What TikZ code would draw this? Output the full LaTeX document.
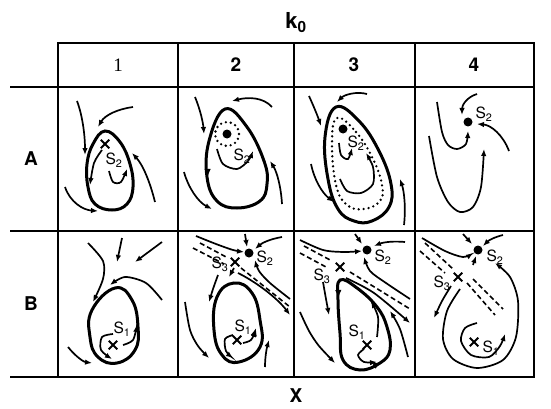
\documentclass[tikz,border=0pt]{standalone}
\usepackage{fontspec}
\setmainfont{TeX Gyre Heros}
\newfontfamily\oldone{Liberation Serif}
\usetikzlibrary{arrows.meta,shapes.misc}

\begin{document}
\begin{tikzpicture}[x=1pt, y=-1pt,
    grid/.style={line width=1.5pt},
    flow/.style={line width=1.7pt, -{Latex[length=7pt,width=5.5pt]}},
    tip/.style={line width=1.7pt, -{Latex[length=8pt,width=6.5pt]}},
    orbit/.style={line width=3pt},
    orbitdots/.style={line width=2.6pt, line cap=round, dash pattern=on 0pt off 5pt},
    sep/.style={line width=1.6pt, dash pattern=on 5pt off 3pt},
    focus/.style={circle, fill, inner sep=0pt, minimum size=9pt},
    saddle/.style={draw, cross out, line width=2pt, inner sep=0pt, minimum size=6.5pt},
    lab/.style={font=\fontsize{15.5}{15.5}\selectfont, inner sep=0pt},
    head/.style={font=\bfseries\fontsize{19}{19}\selectfont}
]
\useasboundingbox (0,0) rectangle (551,409);

% table
\draw[grid] (58,43) rectangle (534,377);
\draw[grid] (10,87) -- (534,87);
\draw[grid] (10,231) -- (534,231);
\draw[grid] (10,377) -- (58,377);
\foreach \x in {178,294,415}
    \draw[grid] (\x,43) -- (\x,377);

\node[head, font=\bfseries\fontsize{22}{22}\selectfont] (k0) at (296,23) {k\textsubscript{0}};
\node[head] (col1) at (118,65) {\oldone\mdseries 1};
\node[head] (col2) at (236,65) {2};
\node[head] (col3) at (354,65) {3};
\node[head] (col4) at (474,65) {4};
\node[head] (rowA) at (31,159) {A};
\node[head] (rowB) at (31,304) {B};
\node[head] (xlab) at (296,396) {X};

% A1
\begin{scope}[shift={(58,87)}]
\draw[orbit] plot[smooth cycle, tension=0.7] coordinates
    {(47,44) (62,55) (72,77) (75,100) (69,117) (54,123) (37,117) (30,100) (29,77) (35,57)};
\node[saddle] (a1s2) at (47,57) {};
\node[lab] (a1l) at (56,73) {S\textsubscript{2}};
\draw[flow] plot[smooth] coordinates {(44,63) (36,76) (32,98)};
\draw[flow] plot[smooth] coordinates {(51,84) (55,95) (63,95) (69,82)};
\draw[flow] (19,14) .. controls (25,30) and (27,50) .. (27,68);
\draw[flow] (75,20) .. controls (60,22) and (47,28) .. (40,40);
\draw[flow] (97,115) .. controls (92,95) and (85,78) .. (74,66);
\draw[flow] (7,100) .. controls (12,115) and (25,123) .. (40,124);
\end{scope}

% A2
\begin{scope}[shift={(178,87)}]
\draw[orbit] plot[smooth cycle, tension=0.7] coordinates
    {(47,22) (69,40) (86,74) (89,97) (82,114) (59,121) (39,114) (29,90) (31,54)};
\draw[tip] (29.6,82) -- (29.8,90);
\node[focus] (a2s2) at (49,47) {};
\draw[orbitdots] (a2s2) circle (12);
\node[lab] (a2l) at (64,69) {S\textsubscript{2}};
\draw[flow] plot[smooth] coordinates {(39,62) (45,77) (59,82) (70,74) (75,64)};
\draw[flow] (17,10) .. controls (22,22) and (25,35) .. (26,47);
\draw[flow] (94,20) .. controls (85,10) and (70,10) .. (54,14);
\draw[flow] (104,117) .. controls (103,100) and (99,85) .. (92,74);
\draw[flow] (6,85) .. controls (10,100) and (20,115) .. (34,122);
\end{scope}

% A3
\begin{scope}[shift={(294,87)}]
\draw[orbit] plot[smooth cycle, tension=0.7] coordinates
    {(42,20) (65,34) (85,64) (97,97) (95,120) (78,134) (60,134) (44,122) (34,92) (31,50)};
\draw[orbitdots] plot[smooth cycle, tension=0.7] coordinates
    {(43,31) (62,45) (79,72) (88,98) (86,114) (70,122) (53,118) (42,98) (38,56)};
\node[focus] (a3s2) at (49,42) {};
\node[lab] (a3l) at (62,56) {S\textsubscript{2}};
\draw[flow] plot[smooth] coordinates {(45,56) (47,68) (54,72) (58,61)};
\draw[flow] plot[smooth] coordinates {(46,92) (53,104) (67,106) (79,97) (79,80) (72,66)};
\draw[flow] (15,9) .. controls (20,20) and (24,30) .. (27,39);
\draw[flow] (73,7) .. controls (62,4) and (50,8) .. (43,15);
\draw[flow] (17,77) .. controls (20,92) and (28,106) .. (40,115);
\draw[flow] (110,138) .. controls (112,120) and (110,104) .. (106,92);
\end{scope}

% A4
\begin{scope}[shift={(415,87)}]
\node[focus] (a4s2) at (53,35) {};
\node[lab] (a4l) at (69,27) {S\textsubscript{2}};
\draw[flow] (62,7) .. controls (52,10) and (47,18) .. (47,28);
\draw[flow] plot[smooth] coordinates {(22,15) (27,45) (33,58) (42,62) (51,57) (53,44)};
\draw[flow] (94,64) .. controls (88,48) and (76,38) .. (62,37);
\draw[flow] plot[smooth] coordinates {(14,49) (22,90) (33,115) (45,125) (58,120) (66,100) (69,62)};
\end{scope}

% B1
\begin{scope}[shift={(58,231)}]
\draw[orbit] plot[smooth cycle, tension=0.75] coordinates
    {(57,57) (74,69) (80,96) (77,119) (59,132) (40,126) (32,106) (34,79)};
\node[saddle] (b1s1) at (55,114) {};
\node[lab] (b1l) at (64,98) {S\textsubscript{1}};
\draw[flow] plot[smooth] coordinates {(55,103) (44,106) (43,119) (54,128)};
\draw[flow] plot[smooth] coordinates {(65,114) (75,109) (79,94)};
\draw[flow] plot[smooth] coordinates {(30,12) (45,30) (45,48) (35,71)};
\draw[flow] (64,7) -- (59,31);
\draw[flow] (104,11) -- (77,31);
\draw[flow] plot[smooth] coordinates {(104,69) (88,52) (67,46) (52,54)};
\draw[flow] (10,116) .. controls (18,126) and (26,131) .. (34,132);
\end{scope}

% B2
\begin{scope}[shift={(178,231)}]
\node[focus] (b2s2) at (71,22) {};
\node[lab] (b2l2) at (87,27) {S\textsubscript{2}};
\node[saddle] (b2s3) at (57,31) {};
\node[lab] (b2l3) at (42,33) {S\textsubscript{3}};
\draw[orbit] plot[smooth cycle, tension=0.75] coordinates
    {(56,52) (74,62) (82,89) (82,116) (61,131) (44,124) (36,99) (39,66)};
\draw[tip] (76,104) -- (78,97);
\node[saddle] (b2s1) at (59,109) {};
\node[lab] (b2l1) at (65,96) {S\textsubscript{1}};
\draw[flow] plot[smooth] coordinates {(55,104) (47,108) (48,120) (55,127)};
\draw[flow] plot[smooth] coordinates {(65,112) (73,109) (78,99)};
\draw[flow] plot[smooth] coordinates {(7,71) (12,99) (20,115) (31,127)};
\draw[flow] (87,136) .. controls (87,125) and (89,116) .. (91,109);
\draw[flow] plot[smooth] coordinates {(40,44) (35,58) (31,71)};
\draw[flow] (56,37) -- (51,46);
% separatrix band
\draw[flow] plot[smooth] coordinates {(18,5) (38,13) (55,19) (66,21)};
\draw[sep] (22,12) -- (50,27);
\draw[sep] (15,17) -- (46,33);
\draw[flow] (67,3) -- (69,16);
\draw[flow] (104,6) .. controls (92,8) and (84,12) .. (77,18);
\draw[flow] plot[smooth] coordinates {(112,68) (92,52) (81,40) (77,29)};
\draw[sep] (63,37) -- (112,76);
\draw[flow] (60,42) .. controls (80,52) and (100,68) .. (112,84);
\end{scope}

% B3
\begin{scope}[shift={(294,231)}]
\node[focus] (b3s2) at (73,19) {};
\node[lab] (b3l2) at (89,26) {S\textsubscript{2}};
\node[saddle] (b3s3) at (46,36) {};
\node[lab] (b3l3) at (28,45) {S\textsubscript{3}};
\draw[flow] (61,3) -- (68,13);
\draw[flow] (111,11) .. controls (100,10) and (90,11) .. (80,15);
\draw[flow] plot[smooth] coordinates {(6,9) (29,19) (50,21) (68,20)};
\draw[sep] (10,15) -- (38,30);
\draw[sep] (6,22) -- (32,36);
\draw[flow] plot[smooth] coordinates {(116,68) (92,52) (76,40) (70,26)};
\draw[sep] (56,41) -- (116,78);
\draw[flow] plot[smooth] coordinates {(52,47) (80,62) (116,92)};
\draw[orbit] plot[smooth cycle, tension=0.7] coordinates
    {(46,49) (63,57) (83,76) (93,96) (96,119) (86,132) (66,139) (49,129) (46,102) (44,69)};
\draw[tip] (44.3,60) -- (44.5,67);
\draw[tip] (80,135) -- (87,131);
\node[saddle] (b3s1) at (73,114) {};
\node[lab] (b3l1) at (63,101) {S\textsubscript{1}};
\draw[flow] plot[smooth] coordinates {(70,118) (64,124) (70,131) (83,131)};
\draw[flow] plot[smooth] coordinates {(83,106) (84,86) (77,70)};
\draw[flow] plot[smooth] coordinates {(29,51) (32,68) (35,84)};
\draw[flow] plot[smooth] coordinates {(6,81) (15,100) (25,115) (41,132)};
\draw[flow] plot[smooth] coordinates {(114,126) (106,98) (96,80)};
\end{scope}

% B4
\begin{scope}[shift={(415,231)}]
\node[focus] (b4s2) at (63,19) {};
\node[lab] (b4l2) at (80,26) {S\textsubscript{2}};
\node[saddle] (b4s3) at (43,46) {};
\node[lab] (b4l3) at (27,52) {S\textsubscript{3}};
\draw[flow] (48,3) -- (57,13);
\draw[flow] (88,4) .. controls (80,6) and (74,9) .. (68,15);
\draw[flow] plot[smooth] coordinates {(7,7) (30,20) (48,26) (58,22)};
\draw[sep] (10,12) -- (38,38);
\draw[sep] (5,20) -- (30,42);
\draw[flow] (58,34) -- (61,25);
\draw[sep] (52,52) -- (80,84);
\draw[sep] (58,48) -- (88,78);
\draw[flow] plot[smooth] coordinates {(36,55) (27,70) (19,87)};
\draw[flow] plot[smooth] coordinates
    {(45,58) (32,80) (28,108) (38,128) (62,137) (88,129) (101,106) (103,70) (95,46) (80,32)};
\node[saddle] (b4s1) at (59,111) {};
\node[lab] (b4l1) at (76,117) {S\textsubscript{1}};
\draw[flow] plot[smooth] coordinates {(62,92) (50,97) (46,110) (56,124) (74,126) (85,115) (90,103)};
\end{scope}
\end{tikzpicture}
\end{document}
